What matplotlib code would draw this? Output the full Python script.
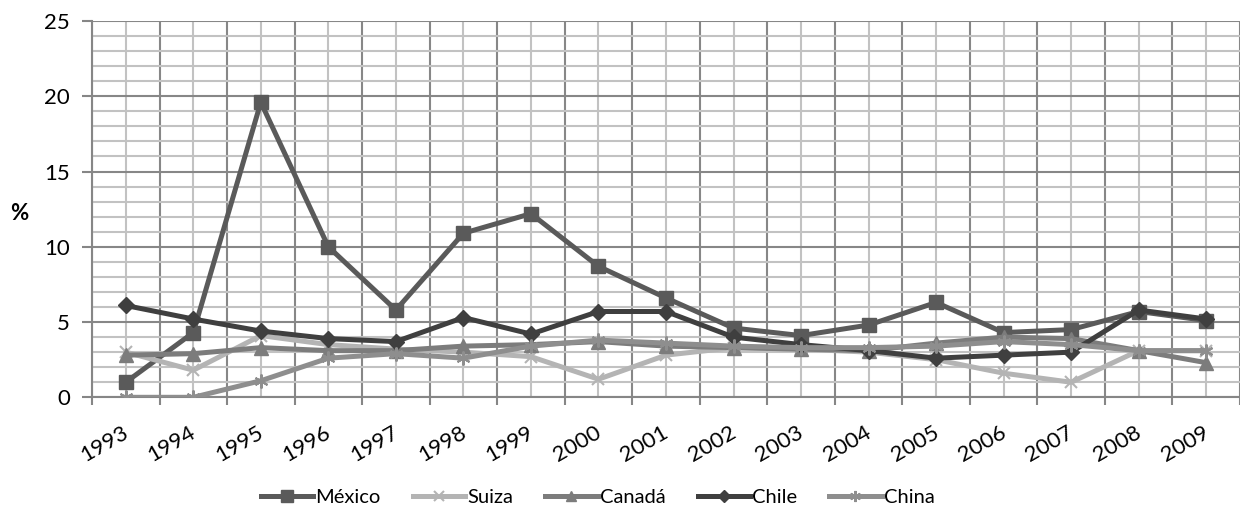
import matplotlib
matplotlib.use("Agg")
import matplotlib.pyplot as plt
import matplotlib.transforms as mtransforms
import numpy as np

years = ["1993", "1994", "1995", "1996", "1997", "1998", "1999", "2000", "2001",
         "2002", "2003", "2004", "2005", "2006", "2007", "2008", "2009"]
mexico = [1.0, 4.3, 19.6, 10.0, 5.8, 10.9, 12.2, 8.7, 6.6, 4.6, 4.1, 4.8, 6.3, 4.3, 4.5, 5.7, 5.1]
suiza = [3.0, 1.8, 4.1, 3.5, 3.2, 3.0, 2.7, 1.2, 2.8, 3.3, 3.2, 3.0, 2.5, 1.6, 1.0, 3.1, 3.1]
canada = [2.8, 2.9, 3.3, 3.1, 3.1, 3.4, 3.5, 3.7, 3.4, 3.3, 3.2, 3.1, 3.6, 4.0, 3.9, 3.1, 2.3]
chile = [6.1, 5.2, 4.4, 3.9, 3.7, 5.3, 4.2, 5.7, 5.7, 4.0, 3.5, 3.1, 2.6, 2.8, 3.0, 5.8, 5.2]
china = [0.0, 0.0, 1.1, 2.6, 2.9, 2.6, 3.4, 3.8, 3.6, 3.4, 3.3, 3.3, 3.4, 3.7, 3.5, 3.1, 3.1]

series_names = ["México", "Suiza", "Canadá", "Chile", "China"]

plt.rcParams['font.family'] = ['Lato', 'DejaVu Sans']

fig = plt.figure(figsize=(12.4, 5.25), dpi=100)
ax = fig.add_axes([92/1240, 1 - 397.3/525, 1 - 92/1240, (397.3 - 21)/525])

x = np.arange(len(years))
styles = [
    (mexico, "#5a5a5a", "s", 10.0, 3.6),
    (suiza, "#b4b4b4", "x", 8.5, 3.6),
    (canada, "#7c7c7c", "^", 9.5, 3.6),
    (chile, "#3f3f3f", "D", 8.0, 3.6),
    (china, "#8e8e8e", (6, 2, 0), 10.0, 3.6),
]
for (vals, col, mk, ms, lw), name in zip(styles, series_names):
    mew = 1.5 if mk in ("x",) or isinstance(mk, tuple) else 1.0
    ax.plot(x, vals, color=col, lw=lw, marker=mk, ms=ms, mec=col, mfc=col,
            mew=mew, label=name, zorder=3, solid_joinstyle='round')

ax.set_xlim(-0.5, len(years) - 0.5)
ax.set_ylim(0, 25)

# x: major ticks at boundaries (grid dark), minor at centers (labels, light grid)
ax.set_xticks(np.arange(-0.5, len(years), 1.0))
ax.set_xticklabels([])
ax.set_xticks(x, minor=True)
ax.set_xticklabels(years, minor=True, rotation=30, ha='right', va='top',
                   rotation_mode='anchor', fontsize=16)
ax.tick_params(axis='x', which='major', direction='out', length=6, width=1.5, color='#868686')
ax.tick_params(axis='x', which='minor', length=0, pad=18)
offset = mtransforms.ScaledTranslation(-4/100, 0, fig.dpi_scale_trans)
for lab in ax.get_xticklabels(minor=True):
    lab.set_transform(lab.get_transform() + offset)

ax.set_yticks(np.arange(0, 26, 5))
ax.set_yticks(np.arange(0, 26, 1), minor=True)
ax.tick_params(axis='y', which='major', direction='out', length=7, width=1.5,
               color='#868686', labelsize=16, pad=9)
ax.tick_params(axis='y', which='minor', length=0)

ax.grid(which='major', color='#878787', lw=1.5, zorder=1)
ax.grid(which='minor', color='#c2c2c2', lw=1.5, zorder=0)
ax.set_axisbelow(True)

for s in ['top', 'right']:
    ax.spines[s].set_visible(False)
for s in ['left', 'bottom']:
    ax.spines[s].set_color('#868686')
    ax.spines[s].set_linewidth(1.5)

fig.text(19/1240, 1 - 214/525, "%", fontsize=16, fontweight='bold', ha='center', va='center')

handles, labels = ax.get_legend_handles_labels()
fig.legend(handles, labels, loc='center', bbox_to_anchor=(0.482, 1 - 497/525), ncol=5,
           frameon=False, fontsize=14.5, handlelength=2.6, columnspacing=1.6,
           handletextpad=0.1, markerscale=0.8)

fig.savefig("out.png", dpi=100)
